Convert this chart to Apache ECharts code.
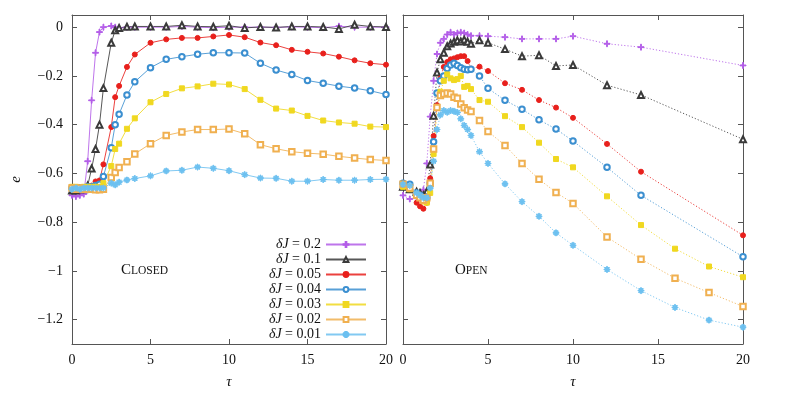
<!DOCTYPE html>
<html>
<head>
<meta charset="utf-8">
<script src="https://cdn.jsdelivr.net/npm/echarts@6/dist/echarts.min.js"></script>
<style>html,body{margin:0;padding:0;background:#fff}#main{width:789px;height:395px}</style>
</head>
<body>
<div id="main"></div>
<script>
// 时间点 (tau)
var tClosed = [0,0.25,0.5,0.75,1,1.25,1.5,1.75,2,2.5,2.75,3,3.5,4,5,6,7,8,9,10,11,12,13,14,15,16,17,18,19,20];
var tOpen = [0,0.4,0.8,1.0,1.2,1.4,1.6,1.8,2.0,2.2,2.4,2.6,2.8,3.0,3.2,3.4,3.6,3.8,4.0,4.5,5,6,7,8,9,10,12,14,16,18,20];

var names = ['0.2','0.1','0.05','0.04','0.03','0.02','0.01'];

// Closed
var closed02 = [-0.69,-0.695,-0.69,-0.685,-0.55,-0.30,-0.105,-0.02,0,0.005,0,-0.003,0,0,0,0,0.003,0,-0.002,0,0,0,-0.001,0.001,0,-0.002,0.004,0,0,0];
var closed01 = [-0.67,-0.67,-0.665,-0.665,-0.65,-0.58,-0.50,-0.40,-0.25,-0.064,-0.013,-0.003,0.002,0.003,0.003,0.003,0.008,0.003,0.002,0.006,-0.003,0.001,-0.001,0.003,0.003,0.001,-0.007,0.01,0.003,0.001];
var closed005 = [-0.665,-0.665,-0.67,-0.665,-0.66,-0.65,-0.633,-0.629,-0.563,-0.41,-0.287,-0.241,-0.163,-0.112,-0.064,-0.050,-0.044,-0.044,-0.038,-0.032,-0.041,-0.063,-0.074,-0.093,-0.101,-0.108,-0.121,-0.136,-0.148,-0.154];
var closed004 = [-0.66,-0.66,-0.66,-0.66,-0.655,-0.655,-0.65,-0.645,-0.613,-0.495,-0.40,-0.357,-0.278,-0.224,-0.166,-0.132,-0.121,-0.111,-0.105,-0.105,-0.106,-0.148,-0.176,-0.194,-0.219,-0.230,-0.242,-0.250,-0.261,-0.276];
var closed003 = [-0.655,-0.655,-0.66,-0.655,-0.655,-0.655,-0.655,-0.655,-0.64,-0.57,-0.50,-0.478,-0.417,-0.374,-0.308,-0.274,-0.251,-0.243,-0.232,-0.235,-0.254,-0.298,-0.334,-0.342,-0.364,-0.383,-0.391,-0.396,-0.408,-0.410];
var closed002 = [-0.66,-0.665,-0.66,-0.665,-0.665,-0.665,-0.667,-0.667,-0.665,-0.617,-0.596,-0.576,-0.552,-0.52,-0.478,-0.444,-0.430,-0.420,-0.420,-0.418,-0.437,-0.482,-0.499,-0.511,-0.517,-0.521,-0.530,-0.537,-0.543,-0.547];
var closed001 = [-0.665,-0.66,-0.665,-0.66,-0.66,-0.66,-0.66,-0.66,-0.66,-0.640,-0.647,-0.636,-0.627,-0.621,-0.610,-0.590,-0.587,-0.574,-0.579,-0.589,-0.605,-0.619,-0.620,-0.632,-0.632,-0.625,-0.628,-0.628,-0.625,-0.624];

// Open
var open02 = [-0.69,-0.705,-0.70,-0.69,-0.667,-0.559,-0.367,-0.22,-0.11,-0.064,-0.048,-0.03,-0.021,-0.03,-0.024,-0.021,-0.024,-0.03,-0.035,-0.035,-0.037,-0.041,-0.048,-0.048,-0.048,-0.037,-0.068,-0.082,null,null,-0.157];
var open01 = [-0.655,-0.665,-0.675,-0.68,-0.69,-0.674,-0.563,-0.363,-0.186,-0.132,-0.105,-0.078,-0.067,-0.06,-0.054,-0.059,-0.051,-0.06,-0.068,-0.054,-0.064,-0.09,-0.119,-0.115,-0.159,-0.155,-0.238,-0.278,null,null,-0.46];
var open005 = [-0.65,-0.655,-0.72,-0.735,-0.745,-0.72,-0.62,-0.446,-0.32,-0.21,-0.163,-0.143,-0.132,-0.128,-0.123,-0.119,-0.119,-0.139,-0.17,-0.162,-0.18,-0.23,-0.257,-0.299,-0.33,-0.372,-0.479,-0.593,null,null,-0.854];
var open004 = [-0.64,-0.645,-0.68,-0.69,-0.70,-0.70,-0.64,-0.47,-0.27,-0.22,-0.20,-0.17,-0.155,-0.148,-0.157,-0.166,-0.173,-0.175,-0.173,-0.20,-0.251,-0.30,-0.337,-0.38,-0.418,-0.467,-0.575,-0.69,null,null,-0.942];
var open003 = [-0.655,-0.665,-0.69,-0.70,-0.715,-0.72,-0.68,-0.52,-0.33,-0.265,-0.22,-0.194,-0.21,-0.217,-0.213,-0.20,-0.245,-0.241,-0.254,-0.299,-0.306,-0.365,-0.41,-0.474,-0.541,-0.575,-0.694,-0.812,-0.909,-0.982,-1.026];
var open002 = [-0.645,-0.66,-0.69,-0.70,-0.71,-0.70,-0.64,-0.50,-0.33,-0.28,-0.274,-0.27,-0.274,-0.288,-0.292,-0.315,-0.331,-0.34,-0.346,-0.383,-0.428,-0.485,-0.559,-0.624,-0.678,-0.723,-0.861,-0.952,-1.03,-1.089,-1.146];
var open001 = [-0.645,-0.65,-0.68,-0.69,-0.70,-0.70,-0.66,-0.55,-0.42,-0.36,-0.342,-0.349,-0.342,-0.345,-0.35,-0.376,-0.403,-0.42,-0.444,-0.511,-0.559,-0.643,-0.716,-0.776,-0.844,-0.895,-0.994,-1.081,-1.15,-1.202,-1.231];

var yTicks = [0,-0.2,-0.4,-0.6,-0.8,-1,-1.2];

var closedData = [closed02, closed01, closed005, closed004, closed003, closed002, closed001];
var openData = [open02, open01, open005, open004, open003, open002, open001];

// 样式
var colors = ['#b35de8','#3a3a3a','#e8201c','#3b8fd0','#f0d820','#f0b050','#6cc0f0'];
var PLUS = 'path://M4.3,0h1.4v4.3h4.3v1.4h-4.3v4.3h-1.4v-4.3h-4.3v-1.4h4.3z';
var STAR = 'path://M4.3,0h1.4v3.3l2.3-2.3 1,1-2.3,2.3h3.3v1.4h-3.3l2.3,2.3-1,1-2.3-2.3v3.3h-1.4v-3.3l-2.3,2.3-1-1 2.3-2.3h-3.3v-1.4h3.3l-2.3-2.3 1-1 2.3,2.3z';
var symbols = [PLUS,'emptyTriangle','circle','emptyCircle','rect','emptyRect',STAR];
var sizes = [6,6,5,5.5,5,5.5,6];

var FONT = 'Liberation Serif';
var frame = '#555';

function zip(t, v){
    var out = [];
    for (var i = 0; i < t.length; i++) out.push([t[i], v[i]]);
    return out;
}

function mkSeries(i, t, vals, panel){
    return {
        name: names[i],
        type: 'line',
        xAxisIndex: panel * 2,
        yAxisIndex: panel * 2,
        data: zip(t, vals),
        connectNulls: true,
        symbol: symbols[i],
        symbolSize: sizes[i],
        showSymbol: true,
        lineStyle: { color: colors[i], width: 1, opacity: 0.85, type: panel === 0 ? 'solid' : [1.2, 2] },
        itemStyle: { color: colors[i], borderColor: colors[i], borderWidth: 1 },
        emphasis: { disabled: true }
    };
}

var series = [];
for (var i = 0; i < 7; i++) series.push(mkSeries(i, tClosed, closedData[i], 0));
for (var j = 0; j < 7; j++) series.push(mkSeries(j, tOpen, openData[j], 1));

function xAx(grid, top){
    return {
        type: 'value', gridIndex: grid, min: 0, max: 20, interval: 5,
        position: top ? 'top' : 'bottom',
        axisLine: { show: true, onZero: false, lineStyle: { color: frame, width: 1 } },
        axisTick: { show: true, inside: true, length: 5, lineStyle: { color: frame } },
        axisLabel: { show: !top, color: '#111', fontFamily: FONT, fontSize: 14, margin: 9 },
        splitLine: { show: false },
        name: top ? '' : 'τ', nameLocation: 'middle', nameGap: 31,
        nameTextStyle: { fontFamily: FONT, fontStyle: 'italic', fontSize: 15, color: '#111' }
    };
}
function yAx(grid, right, labels){
    return {
        type: 'value', gridIndex: grid, min: -1.3, max: 0.05,
        position: right ? 'right' : 'left',
        axisLine: { show: true, onZero: false, lineStyle: { color: frame, width: 1 } },
        axisTick: { show: true, inside: true, length: 5, customValues: yTicks, lineStyle: { color: frame } },
        axisLabel: {
            show: labels, customValues: yTicks, color: '#111', fontFamily: FONT, fontSize: 14, margin: 9,
            formatter: function(v){ return String(v).replace('-', '\u2212'); }
        },
        splitLine: { show: false },
        name: labels ? 'e' : '', nameLocation: 'middle', nameGap: 48, nameRotate: 90,
        nameTextStyle: { fontFamily: FONT, fontStyle: 'italic', fontSize: 15, color: '#111' }
    };
}

var option = {
    animation: false,
    backgroundColor: '#fff',
    grid: [
        { left: 72, right: 403, top: 15, bottom: 48 },
        { left: 403, right: 46, top: 15, bottom: 48 }
    ],
    xAxis: [xAx(0,false), xAx(0,true), xAx(1,false), xAx(1,true)],
    yAxis: [yAx(0,false,true), yAx(0,true,false), yAx(1,false,false), yAx(1,true,false)],
    legend: {
        data: names,
        orient: 'vertical',
        align: 'right',
        right: 422,
        top: 237,
        padding: 0,
        itemGap: 0,
        itemWidth: 40,
        itemHeight: 6,
        selectedMode: false,
        formatter: function(n){ return '{i|\u03b4J} = ' + n; },
        textStyle: {
            fontFamily: FONT, fontSize: 14, color: '#111', lineHeight: 15,
            rich: { i: { fontFamily: FONT, fontStyle: 'italic', fontSize: 14, lineHeight: 15 } }
        }
    },
    graphic: [
        { type: 'text', left: 121, top: 263, style: { text: '{a|C}{b|LOSED}', rich: {
            a: { fontFamily: FONT, fontSize: 15, fill: '#111' },
            b: { fontFamily: FONT, fontSize: 11.5, fill: '#111' } } } },
        { type: 'text', left: 455, top: 263, style: { text: '{a|O}{b|PEN}', rich: {
            a: { fontFamily: FONT, fontSize: 15, fill: '#111' },
            b: { fontFamily: FONT, fontSize: 11.5, fill: '#111' } } } }
    ],
    series: series
};

var myChart = echarts.init(document.getElementById('main'));
myChart.setOption(option);
</script>
</body>
</html>
